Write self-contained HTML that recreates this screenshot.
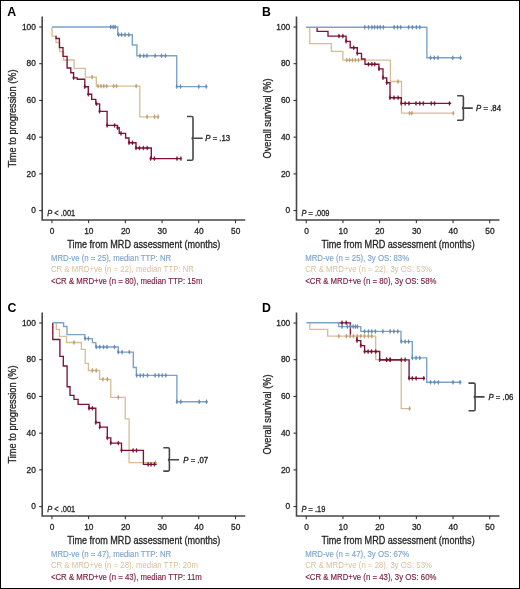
<!DOCTYPE html>
<html><head><meta charset="utf-8"><title>KM curves</title>
<style>
html,body{margin:0;padding:0;background:#fff;}
body{width:520px;height:589px;overflow:hidden;}
.frame{position:absolute;left:0;top:0;width:520px;height:589px;box-sizing:border-box;border:1px solid #000;background:#fff;}
.wrap{position:absolute;left:0;top:0;width:520px;height:589px;will-change:transform;}
svg{position:absolute;left:0;top:0;}
svg text{font-family:"Liberation Sans", sans-serif;}
</style></head>
<body><div class="frame"></div>
<div class="wrap"><svg width="520" height="589" viewBox="0 0 520 589">
<g transform="translate(0,0)">
<text x="7.3" y="16.4" font-size="12.3" font-weight="bold" fill="#000">A</text>
<path d="M42.2,16.6 V220.0 H245.2" fill="none" stroke="#474747" stroke-width="1.6"/>
<path d="M39.2,210.60 H42.2" stroke="#262626" stroke-width="1"/>
<text transform="matrix(0.97,0,0,1,35.9,213.35)" font-size="8.6" text-anchor="end" fill="#262626" stroke="#262626" stroke-width="0.3">0</text>
<path d="M39.2,173.88 H42.2" stroke="#262626" stroke-width="1"/>
<text transform="matrix(0.97,0,0,1,35.9,176.63)" font-size="8.6" text-anchor="end" fill="#262626" stroke="#262626" stroke-width="0.3">20</text>
<path d="M39.2,137.16 H42.2" stroke="#262626" stroke-width="1"/>
<text transform="matrix(0.97,0,0,1,35.9,139.91)" font-size="8.6" text-anchor="end" fill="#262626" stroke="#262626" stroke-width="0.3">40</text>
<path d="M39.2,100.44 H42.2" stroke="#262626" stroke-width="1"/>
<text transform="matrix(0.97,0,0,1,35.9,103.19)" font-size="8.6" text-anchor="end" fill="#262626" stroke="#262626" stroke-width="0.3">60</text>
<path d="M39.2,63.72 H42.2" stroke="#262626" stroke-width="1"/>
<text transform="matrix(0.97,0,0,1,35.9,66.47)" font-size="8.6" text-anchor="end" fill="#262626" stroke="#262626" stroke-width="0.3">80</text>
<path d="M39.2,27.00 H42.2" stroke="#262626" stroke-width="1"/>
<text transform="matrix(0.97,0,0,1,35.9,29.75)" font-size="8.6" text-anchor="end" fill="#262626" stroke="#262626" stroke-width="0.3">100</text>
<path d="M51.95,220.1 V223.2" stroke="#262626" stroke-width="1"/>
<text transform="matrix(0.97,0,0,1,52.15,234.3)" font-size="8.6" text-anchor="middle" fill="#262626" stroke="#262626" stroke-width="0.3">0</text>
<path d="M88.65,220.1 V223.2" stroke="#262626" stroke-width="1"/>
<text transform="matrix(0.97,0,0,1,88.85,234.3)" font-size="8.6" text-anchor="middle" fill="#262626" stroke="#262626" stroke-width="0.3">10</text>
<path d="M125.35,220.1 V223.2" stroke="#262626" stroke-width="1"/>
<text transform="matrix(0.97,0,0,1,125.55,234.3)" font-size="8.6" text-anchor="middle" fill="#262626" stroke="#262626" stroke-width="0.3">20</text>
<path d="M162.05,220.1 V223.2" stroke="#262626" stroke-width="1"/>
<text transform="matrix(0.97,0,0,1,162.25,234.3)" font-size="8.6" text-anchor="middle" fill="#262626" stroke="#262626" stroke-width="0.3">30</text>
<path d="M198.75,220.1 V223.2" stroke="#262626" stroke-width="1"/>
<text transform="matrix(0.97,0,0,1,198.95,234.3)" font-size="8.6" text-anchor="middle" fill="#262626" stroke="#262626" stroke-width="0.3">40</text>
<path d="M235.45,220.1 V223.2" stroke="#262626" stroke-width="1"/>
<text transform="matrix(0.97,0,0,1,235.65,234.3)" font-size="8.6" text-anchor="middle" fill="#262626" stroke="#262626" stroke-width="0.3">50</text>
<text x="67.2" y="248.0" font-size="10.3" fill="#262626" stroke="#262626" stroke-width="0.3" textLength="153.2" lengthAdjust="spacingAndGlyphs">Time from MRD assessment (months)</text>
<text transform="translate(15.8,118.5) rotate(-90)" x="0" y="0" font-size="10.3" fill="#262626" stroke="#262626" stroke-width="0.3" text-anchor="middle" textLength="98" lengthAdjust="spacingAndGlyphs">Time to progression (%)</text>
<text transform="matrix(0.9,0,0,1,47.2,215.7)" font-size="8.3" fill="#262626" stroke="#262626" stroke-width="0.3"><tspan font-style="italic">P</tspan> &lt; .001</text>
<text transform="matrix(0.92,0,0,1,50.9,260.80)" font-size="8.5" fill="#7fa5cd" stroke="#7fa5cd" stroke-width="0.15">MRD-ve (n = 25), median TTP: NR</text>
<text transform="matrix(0.92,0,0,1,50.9,272.30)" font-size="8.5" fill="#dbbf94" stroke="#dbbf94" stroke-width="0.0">CR &amp; MRD+ve (n = 22), median TTP: NR</text>
<text transform="matrix(0.92,0,0,1,50.9,283.80)" font-size="8.5" fill="#7c1a3f" stroke="#7c1a3f" stroke-width="0.15">&lt;CR &amp; MRD+ve (n = 80), median TTP: 15m</text>
</g>
<g transform="translate(254.3,0)">
<text x="7.6" y="16.4" font-size="12.3" font-weight="bold" fill="#000">B</text>
<path d="M42.2,16.6 V220.0 H245.2" fill="none" stroke="#474747" stroke-width="1.6"/>
<path d="M39.2,210.60 H42.2" stroke="#262626" stroke-width="1"/>
<text transform="matrix(0.97,0,0,1,35.9,213.35)" font-size="8.6" text-anchor="end" fill="#262626" stroke="#262626" stroke-width="0.3">0</text>
<path d="M39.2,173.88 H42.2" stroke="#262626" stroke-width="1"/>
<text transform="matrix(0.97,0,0,1,35.9,176.63)" font-size="8.6" text-anchor="end" fill="#262626" stroke="#262626" stroke-width="0.3">20</text>
<path d="M39.2,137.16 H42.2" stroke="#262626" stroke-width="1"/>
<text transform="matrix(0.97,0,0,1,35.9,139.91)" font-size="8.6" text-anchor="end" fill="#262626" stroke="#262626" stroke-width="0.3">40</text>
<path d="M39.2,100.44 H42.2" stroke="#262626" stroke-width="1"/>
<text transform="matrix(0.97,0,0,1,35.9,103.19)" font-size="8.6" text-anchor="end" fill="#262626" stroke="#262626" stroke-width="0.3">60</text>
<path d="M39.2,63.72 H42.2" stroke="#262626" stroke-width="1"/>
<text transform="matrix(0.97,0,0,1,35.9,66.47)" font-size="8.6" text-anchor="end" fill="#262626" stroke="#262626" stroke-width="0.3">80</text>
<path d="M39.2,27.00 H42.2" stroke="#262626" stroke-width="1"/>
<text transform="matrix(0.97,0,0,1,35.9,29.75)" font-size="8.6" text-anchor="end" fill="#262626" stroke="#262626" stroke-width="0.3">100</text>
<path d="M51.95,220.1 V223.2" stroke="#262626" stroke-width="1"/>
<text transform="matrix(0.97,0,0,1,52.15,234.3)" font-size="8.6" text-anchor="middle" fill="#262626" stroke="#262626" stroke-width="0.3">0</text>
<path d="M88.65,220.1 V223.2" stroke="#262626" stroke-width="1"/>
<text transform="matrix(0.97,0,0,1,88.85,234.3)" font-size="8.6" text-anchor="middle" fill="#262626" stroke="#262626" stroke-width="0.3">10</text>
<path d="M125.35,220.1 V223.2" stroke="#262626" stroke-width="1"/>
<text transform="matrix(0.97,0,0,1,125.55,234.3)" font-size="8.6" text-anchor="middle" fill="#262626" stroke="#262626" stroke-width="0.3">20</text>
<path d="M162.05,220.1 V223.2" stroke="#262626" stroke-width="1"/>
<text transform="matrix(0.97,0,0,1,162.25,234.3)" font-size="8.6" text-anchor="middle" fill="#262626" stroke="#262626" stroke-width="0.3">30</text>
<path d="M198.75,220.1 V223.2" stroke="#262626" stroke-width="1"/>
<text transform="matrix(0.97,0,0,1,198.95,234.3)" font-size="8.6" text-anchor="middle" fill="#262626" stroke="#262626" stroke-width="0.3">40</text>
<path d="M235.45,220.1 V223.2" stroke="#262626" stroke-width="1"/>
<text transform="matrix(0.97,0,0,1,235.65,234.3)" font-size="8.6" text-anchor="middle" fill="#262626" stroke="#262626" stroke-width="0.3">50</text>
<text x="67.2" y="248.0" font-size="10.3" fill="#262626" stroke="#262626" stroke-width="0.3" textLength="153.2" lengthAdjust="spacingAndGlyphs">Time from MRD assessment (months)</text>
<text transform="translate(16.8,118.5) rotate(-90)" x="0" y="0" font-size="10.3" fill="#262626" stroke="#262626" stroke-width="0.3" text-anchor="middle" textLength="80" lengthAdjust="spacingAndGlyphs">Overall survival (%)</text>
<text transform="matrix(0.9,0,0,1,47.2,215.7)" font-size="8.3" fill="#262626" stroke="#262626" stroke-width="0.3"><tspan font-style="italic">P</tspan> = .009</text>
<text transform="matrix(0.92,0,0,1,50.9,260.80)" font-size="8.5" fill="#7fa5cd" stroke="#7fa5cd" stroke-width="0.15">MRD-ve (n = 25), 3y OS: 83%</text>
<text transform="matrix(0.92,0,0,1,50.9,272.30)" font-size="8.5" fill="#dbbf94" stroke="#dbbf94" stroke-width="0.0">CR &amp; MRD+ve (n = 22), 3y OS: 53%</text>
<text transform="matrix(0.92,0,0,1,50.9,283.80)" font-size="8.5" fill="#7c1a3f" stroke="#7c1a3f" stroke-width="0.15">&lt;CR &amp; MRD+ve (n = 80), 3y OS: 58%</text>
</g>
<g transform="translate(0,296.0)">
<text x="7.5" y="16.4" font-size="12.3" font-weight="bold" fill="#000">C</text>
<path d="M42.2,16.6 V220.0 H245.2" fill="none" stroke="#474747" stroke-width="1.6"/>
<path d="M39.2,210.60 H42.2" stroke="#262626" stroke-width="1"/>
<text transform="matrix(0.97,0,0,1,35.9,213.35)" font-size="8.6" text-anchor="end" fill="#262626" stroke="#262626" stroke-width="0.3">0</text>
<path d="M39.2,173.88 H42.2" stroke="#262626" stroke-width="1"/>
<text transform="matrix(0.97,0,0,1,35.9,176.63)" font-size="8.6" text-anchor="end" fill="#262626" stroke="#262626" stroke-width="0.3">20</text>
<path d="M39.2,137.16 H42.2" stroke="#262626" stroke-width="1"/>
<text transform="matrix(0.97,0,0,1,35.9,139.91)" font-size="8.6" text-anchor="end" fill="#262626" stroke="#262626" stroke-width="0.3">40</text>
<path d="M39.2,100.44 H42.2" stroke="#262626" stroke-width="1"/>
<text transform="matrix(0.97,0,0,1,35.9,103.19)" font-size="8.6" text-anchor="end" fill="#262626" stroke="#262626" stroke-width="0.3">60</text>
<path d="M39.2,63.72 H42.2" stroke="#262626" stroke-width="1"/>
<text transform="matrix(0.97,0,0,1,35.9,66.47)" font-size="8.6" text-anchor="end" fill="#262626" stroke="#262626" stroke-width="0.3">80</text>
<path d="M39.2,27.00 H42.2" stroke="#262626" stroke-width="1"/>
<text transform="matrix(0.97,0,0,1,35.9,29.75)" font-size="8.6" text-anchor="end" fill="#262626" stroke="#262626" stroke-width="0.3">100</text>
<path d="M51.95,220.1 V223.2" stroke="#262626" stroke-width="1"/>
<text transform="matrix(0.97,0,0,1,52.15,234.3)" font-size="8.6" text-anchor="middle" fill="#262626" stroke="#262626" stroke-width="0.3">0</text>
<path d="M88.65,220.1 V223.2" stroke="#262626" stroke-width="1"/>
<text transform="matrix(0.97,0,0,1,88.85,234.3)" font-size="8.6" text-anchor="middle" fill="#262626" stroke="#262626" stroke-width="0.3">10</text>
<path d="M125.35,220.1 V223.2" stroke="#262626" stroke-width="1"/>
<text transform="matrix(0.97,0,0,1,125.55,234.3)" font-size="8.6" text-anchor="middle" fill="#262626" stroke="#262626" stroke-width="0.3">20</text>
<path d="M162.05,220.1 V223.2" stroke="#262626" stroke-width="1"/>
<text transform="matrix(0.97,0,0,1,162.25,234.3)" font-size="8.6" text-anchor="middle" fill="#262626" stroke="#262626" stroke-width="0.3">30</text>
<path d="M198.75,220.1 V223.2" stroke="#262626" stroke-width="1"/>
<text transform="matrix(0.97,0,0,1,198.95,234.3)" font-size="8.6" text-anchor="middle" fill="#262626" stroke="#262626" stroke-width="0.3">40</text>
<path d="M235.45,220.1 V223.2" stroke="#262626" stroke-width="1"/>
<text transform="matrix(0.97,0,0,1,235.65,234.3)" font-size="8.6" text-anchor="middle" fill="#262626" stroke="#262626" stroke-width="0.3">50</text>
<text x="67.2" y="248.0" font-size="10.3" fill="#262626" stroke="#262626" stroke-width="0.3" textLength="153.2" lengthAdjust="spacingAndGlyphs">Time from MRD assessment (months)</text>
<text transform="translate(15.8,118.5) rotate(-90)" x="0" y="0" font-size="10.3" fill="#262626" stroke="#262626" stroke-width="0.3" text-anchor="middle" textLength="98" lengthAdjust="spacingAndGlyphs">Time to progression (%)</text>
<text transform="matrix(0.9,0,0,1,47.2,215.7)" font-size="8.3" fill="#262626" stroke="#262626" stroke-width="0.3"><tspan font-style="italic">P</tspan> &lt; .001</text>
<text transform="matrix(0.92,0,0,1,50.9,260.80)" font-size="8.5" fill="#7fa5cd" stroke="#7fa5cd" stroke-width="0.15">MRD-ve (n = 47), median TTP: NR</text>
<text transform="matrix(0.92,0,0,1,50.9,272.30)" font-size="8.5" fill="#dbbf94" stroke="#dbbf94" stroke-width="0.0">CR &amp; MRD+ve (n = 28), median TTP: 20m</text>
<text transform="matrix(0.92,0,0,1,50.9,283.80)" font-size="8.5" fill="#7c1a3f" stroke="#7c1a3f" stroke-width="0.15">&lt;CR &amp; MRD+ve (n = 43), median TTP: 11m</text>
</g>
<g transform="translate(254.3,296.0)">
<text x="7.6" y="16.4" font-size="12.3" font-weight="bold" fill="#000">D</text>
<path d="M42.2,16.6 V220.0 H245.2" fill="none" stroke="#474747" stroke-width="1.6"/>
<path d="M39.2,210.60 H42.2" stroke="#262626" stroke-width="1"/>
<text transform="matrix(0.97,0,0,1,35.9,213.35)" font-size="8.6" text-anchor="end" fill="#262626" stroke="#262626" stroke-width="0.3">0</text>
<path d="M39.2,173.88 H42.2" stroke="#262626" stroke-width="1"/>
<text transform="matrix(0.97,0,0,1,35.9,176.63)" font-size="8.6" text-anchor="end" fill="#262626" stroke="#262626" stroke-width="0.3">20</text>
<path d="M39.2,137.16 H42.2" stroke="#262626" stroke-width="1"/>
<text transform="matrix(0.97,0,0,1,35.9,139.91)" font-size="8.6" text-anchor="end" fill="#262626" stroke="#262626" stroke-width="0.3">40</text>
<path d="M39.2,100.44 H42.2" stroke="#262626" stroke-width="1"/>
<text transform="matrix(0.97,0,0,1,35.9,103.19)" font-size="8.6" text-anchor="end" fill="#262626" stroke="#262626" stroke-width="0.3">60</text>
<path d="M39.2,63.72 H42.2" stroke="#262626" stroke-width="1"/>
<text transform="matrix(0.97,0,0,1,35.9,66.47)" font-size="8.6" text-anchor="end" fill="#262626" stroke="#262626" stroke-width="0.3">80</text>
<path d="M39.2,27.00 H42.2" stroke="#262626" stroke-width="1"/>
<text transform="matrix(0.97,0,0,1,35.9,29.75)" font-size="8.6" text-anchor="end" fill="#262626" stroke="#262626" stroke-width="0.3">100</text>
<path d="M51.95,220.1 V223.2" stroke="#262626" stroke-width="1"/>
<text transform="matrix(0.97,0,0,1,52.15,234.3)" font-size="8.6" text-anchor="middle" fill="#262626" stroke="#262626" stroke-width="0.3">0</text>
<path d="M88.65,220.1 V223.2" stroke="#262626" stroke-width="1"/>
<text transform="matrix(0.97,0,0,1,88.85,234.3)" font-size="8.6" text-anchor="middle" fill="#262626" stroke="#262626" stroke-width="0.3">10</text>
<path d="M125.35,220.1 V223.2" stroke="#262626" stroke-width="1"/>
<text transform="matrix(0.97,0,0,1,125.55,234.3)" font-size="8.6" text-anchor="middle" fill="#262626" stroke="#262626" stroke-width="0.3">20</text>
<path d="M162.05,220.1 V223.2" stroke="#262626" stroke-width="1"/>
<text transform="matrix(0.97,0,0,1,162.25,234.3)" font-size="8.6" text-anchor="middle" fill="#262626" stroke="#262626" stroke-width="0.3">30</text>
<path d="M198.75,220.1 V223.2" stroke="#262626" stroke-width="1"/>
<text transform="matrix(0.97,0,0,1,198.95,234.3)" font-size="8.6" text-anchor="middle" fill="#262626" stroke="#262626" stroke-width="0.3">40</text>
<path d="M235.45,220.1 V223.2" stroke="#262626" stroke-width="1"/>
<text transform="matrix(0.97,0,0,1,235.65,234.3)" font-size="8.6" text-anchor="middle" fill="#262626" stroke="#262626" stroke-width="0.3">50</text>
<text x="67.2" y="248.0" font-size="10.3" fill="#262626" stroke="#262626" stroke-width="0.3" textLength="153.2" lengthAdjust="spacingAndGlyphs">Time from MRD assessment (months)</text>
<text transform="translate(16.8,118.5) rotate(-90)" x="0" y="0" font-size="10.3" fill="#262626" stroke="#262626" stroke-width="0.3" text-anchor="middle" textLength="80" lengthAdjust="spacingAndGlyphs">Overall survival (%)</text>
<text transform="matrix(0.9,0,0,1,47.2,215.7)" font-size="8.3" fill="#262626" stroke="#262626" stroke-width="0.3"><tspan font-style="italic">P</tspan> = .19</text>
<text transform="matrix(0.92,0,0,1,50.9,260.80)" font-size="8.5" fill="#7fa5cd" stroke="#7fa5cd" stroke-width="0.15">MRD-ve (n = 47), 3y OS: 67%</text>
<text transform="matrix(0.92,0,0,1,50.9,272.30)" font-size="8.5" fill="#dbbf94" stroke="#dbbf94" stroke-width="0.0">CR &amp; MRD+ve (n = 28), 3y OS: 53%</text>
<text transform="matrix(0.92,0,0,1,50.9,283.80)" font-size="8.5" fill="#7c1a3f" stroke="#7c1a3f" stroke-width="0.15">&lt;CR &amp; MRD+ve (n = 43), 3y OS: 60%</text>
</g>
<path d="M52,27 V36.2 H56 V42.5 H59.7 V51.6 H63.5 V60 H74.1 V68.3 H85.4 V77.1 H96.3 V86.1 H139.8 V116.8 H159.2" fill="none" stroke="#d7bd95" stroke-width="1.3" stroke-linejoin="miter" stroke-linecap="butt"/><path d="M92.1,74.90 L92.95,77.10 L92.1,79.30 L91.25,77.10Z M98,83.90 L98.85,86.10 L98,88.30 L97.15,86.10Z M101,83.90 L101.85,86.10 L101,88.30 L100.15,86.10Z M103.8,83.90 L104.65,86.10 L103.8,88.30 L102.95,86.10Z M106.7,83.90 L107.55,86.10 L106.7,88.30 L105.85,86.10Z M113.6,83.90 L114.45,86.10 L113.6,88.30 L112.75,86.10Z M116.5,83.90 L117.35,86.10 L116.5,88.30 L115.65,86.10Z M136.2,83.90 L137.05,86.10 L136.2,88.30 L135.35,86.10Z M147.1,114.60 L147.95,116.80 L147.1,119.00 L146.25,116.80Z M154.6,114.60 L155.45,116.80 L154.6,119.00 L153.75,116.80Z M158.1,114.60 L158.95,116.80 L158.1,119.00 L157.25,116.80Z" fill="#bd9b6c" stroke="#bd9b6c" stroke-width="0.5"/>
<path d="M309.8,27.2 V43.6 H331.4 V51.4 H342.9 V60.1 H390.4 V81.5 H401.5 V113.2 H453.8" fill="none" stroke="#d7bd95" stroke-width="1.3" stroke-linejoin="miter" stroke-linecap="butt"/><path d="M346.7,57.90 L347.55,60.10 L346.7,62.30 L345.85,60.10Z M349.6,57.90 L350.45,60.10 L349.6,62.30 L348.75,60.10Z M352.5,57.90 L353.35,60.10 L352.5,62.30 L351.65,60.10Z M355.4,57.90 L356.25,60.10 L355.4,62.30 L354.55,60.10Z M358.5,57.90 L359.35,60.10 L358.5,62.30 L357.65,60.10Z M398,79.30 L398.85,81.50 L398,83.70 L397.15,81.50Z M409.6,111.00 L410.45,113.20 L409.6,115.40 L408.75,113.20Z M411.9,111.00 L412.75,113.20 L411.9,115.40 L411.05,113.20Z M453.3,111.00 L454.15,113.20 L453.3,115.40 L452.45,113.20Z" fill="#bd9b6c" stroke="#bd9b6c" stroke-width="0.5"/>
<path d="M56.3,322.8 V329.4 H59.5 V336.3 H66.5 V342.5 H81.4 V349.4 H85.2 V363.3 H88.4 V370.5 H99.6 V379.3 H110.8 V397.3 H125.2 V418.8 H129.1 V462.6 H156.1" fill="none" stroke="#d7bd95" stroke-width="1.3" stroke-linejoin="miter" stroke-linecap="butt"/><path d="M74,340.30 L74.85,342.50 L74,344.70 L73.15,342.50Z M92.4,368.30 L93.25,370.50 L92.4,372.70 L91.55,370.50Z M96.2,368.30 L97.05,370.50 L96.2,372.70 L95.35,370.50Z M102.9,377.10 L103.75,379.30 L102.9,381.50 L102.05,379.30Z M107.4,377.10 L108.25,379.30 L107.4,381.50 L106.55,379.30Z M118.3,395.10 L119.15,397.30 L118.3,399.50 L117.45,397.30Z M155.6,460.40 L156.45,462.60 L155.6,464.80 L154.75,462.60Z" fill="#bd9b6c" stroke="#bd9b6c" stroke-width="0.5"/>
<path d="M309.8,322.8 V329.4 H327.7 V336.1 H375.7 V359.6 H401.2 V408.6 H410.2" fill="none" stroke="#d7bd95" stroke-width="1.3" stroke-linejoin="miter" stroke-linecap="butt"/><path d="M338.8,333.90 L339.65,336.10 L338.8,338.30 L337.95,336.10Z M346.4,333.90 L347.25,336.10 L346.4,338.30 L345.55,336.10Z M350.1,333.90 L350.95,336.10 L350.1,338.30 L349.25,336.10Z M353.5,333.90 L354.35,336.10 L353.5,338.30 L352.65,336.10Z M357.2,333.90 L358.05,336.10 L357.2,338.30 L356.35,336.10Z M360.8,333.90 L361.65,336.10 L360.8,338.30 L359.95,336.10Z M364.5,333.90 L365.35,336.10 L364.5,338.30 L363.65,336.10Z M368.4,333.90 L369.25,336.10 L368.4,338.30 L367.55,336.10Z M371.8,333.90 L372.65,336.10 L371.8,338.30 L370.95,336.10Z M409.6,406.40 L410.45,408.60 L409.6,410.80 L408.75,408.60Z" fill="#bd9b6c" stroke="#bd9b6c" stroke-width="0.5"/>
<path d="M55.6,36.3 H56 V38.5 H59.4 V47.6 H63 V56.4 H67.1 V68 H70.8 V72.7 H73.6 V77.8 H77.3 V79.2 H84.8 V86.7 H88.3 V94.2 H91.7 V99.4 H95.8 V103.8 H99.6 V111.3 H107.1 V125.4 H117.5 V127.7 H119.2 V133.4 H125.6 V138 H129 V142.7 H136 V148 H151.3 V158.6 H181.3" fill="none" stroke="#7e1336" stroke-width="1.35" stroke-linejoin="miter" stroke-linecap="butt"/><path d="M73.6,75.60 L74.45,77.80 L73.6,80.00 L72.75,77.80Z M84.8,84.50 L85.65,86.70 L84.8,88.90 L83.95,86.70Z M88.3,92.00 L89.15,94.20 L88.3,96.40 L87.45,94.20Z M96.5,101.60 L97.35,103.80 L96.5,106.00 L95.65,103.80Z M99.6,109.10 L100.45,111.30 L99.6,113.50 L98.75,111.30Z M107.1,123.20 L107.95,125.40 L107.1,127.60 L106.25,125.40Z M114.6,123.20 L115.45,125.40 L114.6,127.60 L113.75,125.40Z M121,131.20 L121.85,133.40 L121,135.60 L120.15,133.40Z M136,145.80 L136.85,148.00 L136,150.20 L135.15,148.00Z M117.5,125.50 L118.35,127.70 L117.5,129.90 L116.65,127.70Z M129,140.50 L129.85,142.70 L129,144.90 L128.15,142.70Z M132.5,140.50 L133.35,142.70 L132.5,144.90 L131.65,142.70Z M139.4,145.80 L140.25,148.00 L139.4,150.20 L138.55,148.00Z M143.4,145.80 L144.25,148.00 L143.4,150.20 L142.55,148.00Z M147.2,145.80 L148.05,148.00 L147.2,150.20 L146.35,148.00Z M150.6,156.40 L151.45,158.60 L150.6,160.80 L149.75,158.60Z M154.4,156.40 L155.25,158.60 L154.4,160.80 L153.55,158.60Z M177,156.40 L177.85,158.60 L177,160.80 L176.15,158.60Z M180.9,156.40 L181.75,158.60 L180.9,160.80 L180.05,158.60Z" fill="#76102f" stroke="#76102f" stroke-width="0.5"/>
<path d="M317.1,27.2 V31.3 H328 V36.1 H346.1 V41.3 H350.2 V47.7 H357.3 V53.4 H361.5 V59 H365 V64.2 H378.9 V68.9 H383 V77.8 H386.7 V82.7 H390 V97.7 H401.3 V103.4 H451.2" fill="none" stroke="#7e1336" stroke-width="1.35" stroke-linejoin="miter" stroke-linecap="butt"/><path d="M339,33.90 L339.85,36.10 L339,38.30 L338.15,36.10Z M342.9,33.90 L343.75,36.10 L342.9,38.30 L342.05,36.10Z M346.1,39.10 L346.95,41.30 L346.1,43.50 L345.25,41.30Z M353.8,45.50 L354.65,47.70 L353.8,49.90 L352.95,47.70Z M357.3,51.20 L358.15,53.40 L357.3,55.60 L356.45,53.40Z M368.5,62.00 L369.35,64.20 L368.5,66.40 L367.65,64.20Z M371.9,62.00 L372.75,64.20 L371.9,66.40 L371.05,64.20Z M374.8,62.00 L375.65,64.20 L374.8,66.40 L373.95,64.20Z M379,66.70 L379.85,68.90 L379,71.10 L378.15,68.90Z M383,75.60 L383.85,77.80 L383,80.00 L382.15,77.80Z M386.7,80.50 L387.55,82.70 L386.7,84.90 L385.85,82.70Z M390,95.50 L390.85,97.70 L390,99.90 L389.15,97.70Z M394,95.50 L394.85,97.70 L394,99.90 L393.15,97.70Z M398.1,95.50 L398.95,97.70 L398.1,99.90 L397.25,97.70Z M401.3,101.20 L402.15,103.40 L401.3,105.60 L400.45,103.40Z M405.2,101.20 L406.05,103.40 L405.2,105.60 L404.35,103.40Z M409,101.20 L409.85,103.40 L409,105.60 L408.15,103.40Z M416,101.20 L416.85,103.40 L416,105.60 L415.15,103.40Z M419.8,101.20 L420.65,103.40 L419.8,105.60 L418.95,103.40Z M423.3,101.20 L424.15,103.40 L423.3,105.60 L422.45,103.40Z M431.3,101.20 L432.15,103.40 L431.3,105.60 L430.45,103.40Z M434.6,101.20 L435.45,103.40 L434.6,105.60 L433.75,103.40Z M449.5,101.20 L450.35,103.40 L449.5,105.60 L448.65,103.40Z" fill="#76102f" stroke="#76102f" stroke-width="0.5"/>
<path d="M52.8,322.8 V339.5 H59.9 V356.3 H63.3 V366 H67.1 V386.7 H70 V395.4 H74 V399.4 H78.1 V404.4 H89 V408.2 H95.8 V422.5 H99.8 V427.1 H107.3 V437.9 H110.8 V443.1 H121.5 V450.4 H143.4 V464.4 H156.7" fill="none" stroke="#7e1336" stroke-width="1.35" stroke-linejoin="miter" stroke-linecap="butt"/><path d="M89,406.00 L89.85,408.20 L89,410.40 L88.15,408.20Z M92.4,406.00 L93.25,408.20 L92.4,410.40 L91.55,408.20Z M95.8,420.30 L96.65,422.50 L95.8,424.70 L94.95,422.50Z M99.8,424.90 L100.65,427.10 L99.8,429.30 L98.95,427.10Z M107.3,435.70 L108.15,437.90 L107.3,440.10 L106.45,437.90Z M110.8,440.90 L111.65,443.10 L110.8,445.30 L109.95,443.10Z M118.3,440.90 L119.15,443.10 L118.3,445.30 L117.45,443.10Z M121.5,448.20 L122.35,450.40 L121.5,452.60 L120.65,450.40Z M133.1,448.20 L133.95,450.40 L133.1,452.60 L132.25,450.40Z M136.5,448.20 L137.35,450.40 L136.5,452.60 L135.65,450.40Z M148.1,462.20 L148.95,464.40 L148.1,466.60 L147.25,464.40Z M151,462.20 L151.85,464.40 L151,466.60 L150.15,464.40Z M154.4,462.20 L155.25,464.40 L154.4,466.60 L153.55,464.40Z" fill="#76102f" stroke="#76102f" stroke-width="0.5"/>
<path d="M337.8,322.8 H350.4 V334.6 M356.9,337 V340.6 H360.8 V345.6 H364.6 V351.5 H379.7 V359.8 H409.1 V378.3 H425" fill="none" stroke="#7e1336" stroke-width="1.35" stroke-linejoin="miter" stroke-linecap="butt"/><path d="M342,320.60 L342.85,322.80 L342,325.00 L341.15,322.80Z M346.2,320.60 L347.05,322.80 L346.2,325.00 L345.35,322.80Z M357,338.40 L357.85,340.60 L357,342.80 L356.15,340.60Z M360.8,343.40 L361.65,345.60 L360.8,347.80 L359.95,345.60Z M364.6,349.30 L365.45,351.50 L364.6,353.70 L363.75,351.50Z M368.1,349.30 L368.95,351.50 L368.1,353.70 L367.25,351.50Z M371.5,349.30 L372.35,351.50 L371.5,353.70 L370.65,351.50Z M375.8,349.30 L376.65,351.50 L375.8,353.70 L374.95,351.50Z M379.7,357.60 L380.55,359.80 L379.7,362.00 L378.85,359.80Z M386.7,357.60 L387.55,359.80 L386.7,362.00 L385.85,359.80Z M390.1,357.60 L390.95,359.80 L390.1,362.00 L389.25,359.80Z M401.3,357.60 L402.15,359.80 L401.3,362.00 L400.45,359.80Z M405.1,357.60 L405.95,359.80 L405.1,362.00 L404.25,359.80Z M409.1,376.10 L409.95,378.30 L409.1,380.50 L408.25,378.30Z M412.3,376.10 L413.15,378.30 L412.3,380.50 L411.45,378.30Z M416.1,376.10 L416.95,378.30 L416.1,380.50 L415.25,378.30Z M423.8,376.10 L424.65,378.30 L423.8,380.50 L422.95,378.30Z" fill="#76102f" stroke="#76102f" stroke-width="0.5"/>
<path d="M52,27 H117.7 V34.7 H132.3 V45 H136.9 V55.8 H176.7 V86.6 H207.4" fill="none" stroke="#7ca3ca" stroke-width="1.4" stroke-linejoin="miter" stroke-linecap="butt"/><path d="M110.8,24.80 L111.65,27.00 L110.8,29.20 L109.95,27.00Z M113.1,24.80 L113.95,27.00 L113.1,29.20 L112.25,27.00Z M115.1,24.80 L115.95,27.00 L115.1,29.20 L114.25,27.00Z M118.6,32.50 L119.45,34.70 L118.6,36.90 L117.75,34.70Z M121.5,32.50 L122.35,34.70 L121.5,36.90 L120.65,34.70Z M125,32.50 L125.85,34.70 L125,36.90 L124.15,34.70Z M128.8,32.50 L129.65,34.70 L128.8,36.90 L127.95,34.70Z M140,53.60 L140.85,55.80 L140,58.00 L139.15,55.80Z M143.8,53.60 L144.65,55.80 L143.8,58.00 L142.95,55.80Z M146.9,53.60 L147.75,55.80 L146.9,58.00 L146.05,55.80Z M155.1,53.60 L155.95,55.80 L155.1,58.00 L154.25,55.80Z M161.5,53.60 L162.35,55.80 L161.5,58.00 L160.65,55.80Z M165.4,53.60 L166.25,55.80 L165.4,58.00 L164.55,55.80Z M176.8,84.40 L177.65,86.60 L176.8,88.80 L175.95,86.60Z M180.5,84.40 L181.35,86.60 L180.5,88.80 L179.65,86.60Z M198.8,84.40 L199.65,86.60 L198.8,88.80 L197.95,86.60Z M206.2,84.40 L207.05,86.60 L206.2,88.80 L205.35,86.60Z" fill="#5f87b2" stroke="#5f87b2" stroke-width="0.5"/>
<path d="M306,27.2 H426.9 V57.8 H461.5" fill="none" stroke="#7ca3ca" stroke-width="1.4" stroke-linejoin="miter" stroke-linecap="butt"/><path d="M364.8,25.00 L365.65,27.20 L364.8,29.40 L363.95,27.20Z M368.5,25.00 L369.35,27.20 L368.5,29.40 L367.65,27.20Z M371.9,25.00 L372.75,27.20 L371.9,29.40 L371.05,27.20Z M374.6,25.00 L375.45,27.20 L374.6,29.40 L373.75,27.20Z M377.5,25.00 L378.35,27.20 L377.5,29.40 L376.65,27.20Z M380.2,25.00 L381.05,27.20 L380.2,29.40 L379.35,27.20Z M383.4,25.00 L384.25,27.20 L383.4,29.40 L382.55,27.20Z M394.1,25.00 L394.95,27.20 L394.1,29.40 L393.25,27.20Z M397.5,25.00 L398.35,27.20 L397.5,29.40 L396.65,27.20Z M400.7,25.00 L401.55,27.20 L400.7,29.40 L399.85,27.20Z M408.6,25.00 L409.45,27.20 L408.6,29.40 L407.75,27.20Z M412.4,25.00 L413.25,27.20 L412.4,29.40 L411.55,27.20Z M416.4,25.00 L417.25,27.20 L416.4,29.40 L415.55,27.20Z M419.8,25.00 L420.65,27.20 L419.8,29.40 L418.95,27.20Z M430.6,55.60 L431.45,57.80 L430.6,60.00 L429.75,57.80Z M434.3,55.60 L435.15,57.80 L434.3,60.00 L433.45,57.80Z M438,55.60 L438.85,57.80 L438,60.00 L437.15,57.80Z M452.8,55.60 L453.65,57.80 L452.8,60.00 L451.95,57.80Z M460.5,55.60 L461.35,57.80 L460.5,60.00 L459.65,57.80Z" fill="#5f87b2" stroke="#5f87b2" stroke-width="0.5"/>
<path d="M52.8,322.8 H63.6 V326.5 H67 V334.6 H84.9 V338.6 H92.4 V342.6 H95.8 V347 H118.3 V352.1 H133.3 V367.5 H136.4 V375.4 H176.9 V401.8 H207.7" fill="none" stroke="#7ca3ca" stroke-width="1.4" stroke-linejoin="miter" stroke-linecap="butt"/><path d="M85.1,336.40 L85.95,338.60 L85.1,340.80 L84.25,338.60Z M88.4,336.40 L89.25,338.60 L88.4,340.80 L87.55,338.60Z M96.3,344.80 L97.15,347.00 L96.3,349.20 L95.45,347.00Z M99.8,344.80 L100.65,347.00 L99.8,349.20 L98.95,347.00Z M103.6,344.80 L104.45,347.00 L103.6,349.20 L102.75,347.00Z M107,344.80 L107.85,347.00 L107,349.20 L106.15,347.00Z M114.5,344.80 L115.35,347.00 L114.5,349.20 L113.65,347.00Z M118.3,349.90 L119.15,352.10 L118.3,354.30 L117.45,352.10Z M122.1,349.90 L122.95,352.10 L122.1,354.30 L121.25,352.10Z M129.4,349.90 L130.25,352.10 L129.4,354.30 L128.55,352.10Z M136.7,373.20 L137.55,375.40 L136.7,377.60 L135.85,375.40Z M140.2,373.20 L141.05,375.40 L140.2,377.60 L139.35,375.40Z M143.4,373.20 L144.25,375.40 L143.4,377.60 L142.55,375.40Z M147.5,373.20 L148.35,375.40 L147.5,377.60 L146.65,375.40Z M155.1,373.20 L155.95,375.40 L155.1,377.60 L154.25,375.40Z M158.8,373.20 L159.65,375.40 L158.8,377.60 L157.95,375.40Z M162.3,373.20 L163.15,375.40 L162.3,377.60 L161.45,375.40Z M165.8,373.20 L166.65,375.40 L165.8,377.60 L164.95,375.40Z M176.9,399.60 L177.75,401.80 L176.9,404.00 L176.05,401.80Z M180.8,399.60 L181.65,401.80 L180.8,404.00 L179.95,401.80Z M199.2,399.60 L200.05,401.80 L199.2,404.00 L198.35,401.80Z M206.5,399.60 L207.35,401.80 L206.5,404.00 L205.65,401.80Z" fill="#5f87b2" stroke="#5f87b2" stroke-width="0.5"/>
<path d="M306.3,322.8 H338.6 V326.6 H360.8 V331.4 H401 V341.6 H412.3 V357.9 H426.7 V382.3 H461.5" fill="none" stroke="#7ca3ca" stroke-width="1.4" stroke-linejoin="miter" stroke-linecap="butt"/><path d="M342,324.40 L342.85,326.60 L342,328.80 L341.15,326.60Z M347.4,324.40 L348.25,326.60 L347.4,328.80 L346.55,326.60Z M350.5,324.40 L351.35,326.60 L350.5,328.80 L349.65,326.60Z M353.2,324.40 L354.05,326.60 L353.2,328.80 L352.35,326.60Z M355.5,324.40 L356.35,326.60 L355.5,328.80 L354.65,326.60Z M357.4,324.40 L358.25,326.60 L357.4,328.80 L356.55,326.60Z M364.6,329.20 L365.45,331.40 L364.6,333.60 L363.75,331.40Z M368.5,329.20 L369.35,331.40 L368.5,333.60 L367.65,331.40Z M371.8,329.20 L372.65,331.40 L371.8,333.60 L370.95,331.40Z M375.4,329.20 L376.25,331.40 L375.4,333.60 L374.55,331.40Z M382.9,329.20 L383.75,331.40 L382.9,333.60 L382.05,331.40Z M390.1,329.20 L390.95,331.40 L390.1,333.60 L389.25,331.40Z M393.9,329.20 L394.75,331.40 L393.9,333.60 L393.05,331.40Z M397.8,329.20 L398.65,331.40 L397.8,333.60 L396.95,331.40Z M401.3,339.40 L402.15,341.60 L401.3,343.80 L400.45,341.60Z M405.1,339.40 L405.95,341.60 L405.1,343.80 L404.25,341.60Z M408.6,339.40 L409.45,341.60 L408.6,343.80 L407.75,341.60Z M412.3,355.70 L413.15,357.90 L412.3,360.10 L411.45,357.90Z M416.1,355.70 L416.95,357.90 L416.1,360.10 L415.25,357.90Z M419.8,355.70 L420.65,357.90 L419.8,360.10 L418.95,357.90Z M430.6,380.10 L431.45,382.30 L430.6,384.50 L429.75,382.30Z M434.6,380.10 L435.45,382.30 L434.6,384.50 L433.75,382.30Z M438.3,380.10 L439.15,382.30 L438.3,384.50 L437.45,382.30Z M453,380.10 L453.85,382.30 L453,384.50 L452.15,382.30Z M460,380.10 L460.85,382.30 L460,384.50 L459.15,382.30Z" fill="#5f87b2" stroke="#5f87b2" stroke-width="0.5"/>
<path d="M379.7,359.8 H401.2" fill="none" stroke="#7e1336" stroke-width="1.35" stroke-linejoin="miter" stroke-linecap="butt"/><path d="M386.7,357.60 L387.55,359.80 L386.7,362.00 L385.85,359.80Z M390.1,357.60 L390.95,359.80 L390.1,362.00 L389.25,359.80Z" fill="#76102f" stroke="#76102f" stroke-width="0.5"/>
<path d="M187,116.5 H191.7 Q193,116.5 193,117.8 V136.5 L192.2,138.3 L193,140.1 V158.9 Q193,160.2 191.7,160.2 H187 M192.2,138.3 H202.7" fill="none" stroke="#474747" stroke-width="1.6"/><text transform="matrix(0.95,0,0,1,205.3,141.10)" font-size="8.2" fill="#262626" stroke="#262626" stroke-width="0.35"><tspan font-style="italic">P</tspan> = .13</text>
<path d="M457.1,95.7 H462.1 Q463.4,95.7 463.4,97 V106.3 L462.6,108.1 L463.4,109.9 V119 Q463.4,120.3 462.1,120.3 H457.1 M462.6,108.1 H472.8" fill="none" stroke="#474747" stroke-width="1.6"/><text transform="matrix(0.95,0,0,1,476.1,110.90)" font-size="8.2" fill="#262626" stroke="#262626" stroke-width="0.35"><tspan font-style="italic">P</tspan> = .84</text>
<path d="M163.3,447.8 H168.1 Q169.4,447.8 169.4,449.1 V458 L168.6,459.8 L169.4,461.6 V469.8 Q169.4,471.1 168.1,471.1 H163.3 M168.6,459.8 H179" fill="none" stroke="#474747" stroke-width="1.6"/><text transform="matrix(0.95,0,0,1,183.3,462.60)" font-size="8.2" fill="#262626" stroke="#262626" stroke-width="0.35"><tspan font-style="italic">P</tspan> = .07</text>
<path d="M468.5,383.1 H473.8 Q475.1,383.1 475.1,384.4 V395.1 L474.3,396.9 L475.1,398.7 V409.5 Q475.1,410.8 473.8,410.8 H468.5 M474.3,396.9 H484.6" fill="none" stroke="#474747" stroke-width="1.6"/><text transform="matrix(0.95,0,0,1,488.5,399.70)" font-size="8.2" fill="#262626" stroke="#262626" stroke-width="0.35"><tspan font-style="italic">P</tspan> = .06</text>
</svg></div>
</body></html>
